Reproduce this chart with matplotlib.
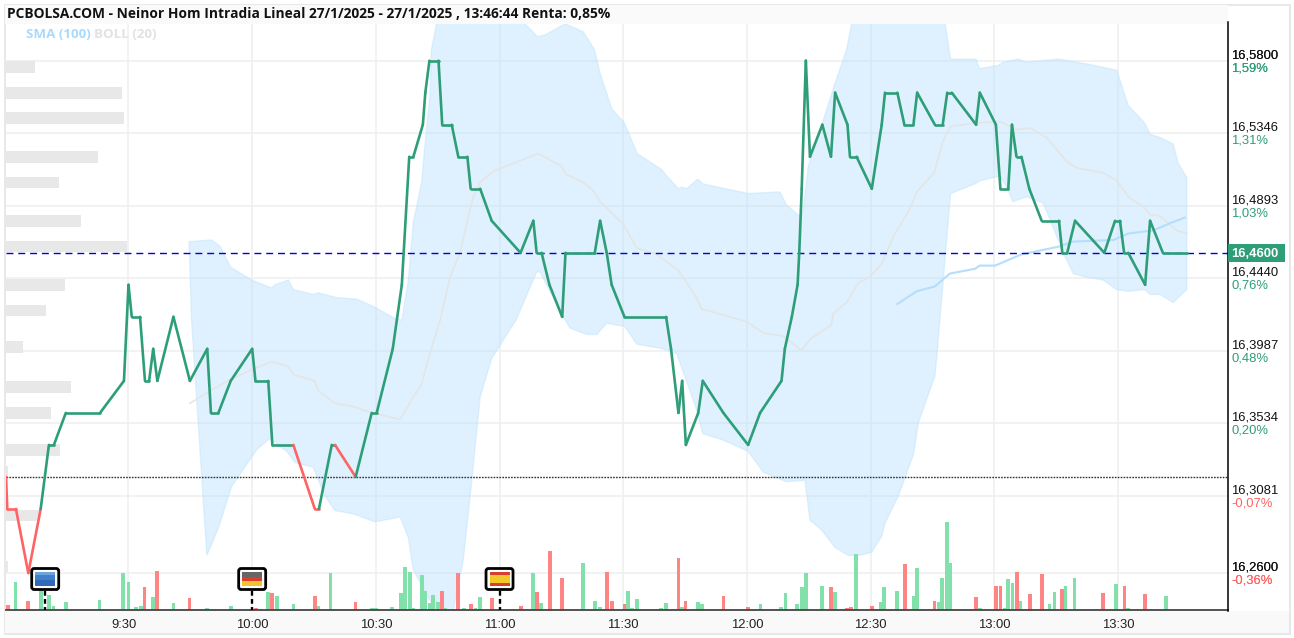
import matplotlib
matplotlib.use("Agg")
import matplotlib.pyplot as plt
from matplotlib.patches import FancyBboxPatch, Rectangle

TITLE = "PCBOLSA.COM - Neinor Hom Intradia Lineal 27/1/2025 - 27/1/2025 , 13:46:44 Renta: 0,85%"

# x values are minutes after 9:00
price_times = [0.3, 0.6, 2.7, 5.7, 8.7, 10.7, 11.9, 14.8, 23.1, 28.9, 30, 30.8, 32.8, 34, 35, 36, 37, 40.9, 44.9,
               49.1, 50, 51.8, 54.8, 60, 60.8, 63.9, 64.9, 70, 75.2, 76.2, 79.3, 80.1, 85.1, 89, 90.2, 94.1, 96.3,
               98.1, 99.1, 101.4, 102, 103, 105.2, 106.1, 108.4, 110, 112.2, 113, 115.3, 118.1, 125.1, 128.2, 129,
               130.2, 132.1, 135.2, 136, 143.1, 144.4, 146, 147.2, 150.3, 160.4, 161.6, 163.4, 164.3, 165.2, 168.2,
               169.3, 174.3, 180.3, 183.2, 188.4, 189.2, 190.9, 192.3, 192.7, 193.3, 194.3, 195.3, 198.3, 200.4,
               201.4, 204.4, 205, 206.6, 210.3, 212.7, 213.5, 216.5, 218.2, 220.4, 221.3, 225.6, 227.5, 228.6, 229.7,
               235.6, 236.5, 240.4, 241.5, 243.4, 244.3, 245.4, 246.6, 248.5, 251.5, 255.7, 256.5, 257.7, 259.6,
               266.7, 269.3, 270.5, 271.5, 272.5, 276.6, 277.8, 280.9, 286.7]
price_values = [16.32, 16.30, 16.30, 16.26, 16.30, 16.34, 16.34, 16.36, 16.36, 16.38, 16.44, 16.42, 16.42, 16.38, 16.38,
                16.40, 16.38, 16.42, 16.38, 16.40, 16.36, 16.36, 16.38, 16.40, 16.38, 16.38, 16.34, 16.34, 16.30, 16.30,
                16.34, 16.34, 16.32, 16.36, 16.36, 16.40, 16.44, 16.52, 16.52, 16.54, 16.56, 16.58, 16.58, 16.54, 16.54,
                16.52, 16.52, 16.50, 16.50, 16.48, 16.46, 16.48, 16.46, 16.46, 16.44, 16.42, 16.46, 16.46, 16.48, 16.46,
                16.44, 16.42, 16.42, 16.40, 16.36, 16.38, 16.34, 16.36, 16.38, 16.36, 16.34, 16.36, 16.38, 16.40, 16.42,
                16.44, 16.46, 16.50, 16.58, 16.52, 16.54, 16.52, 16.56, 16.54, 16.52, 16.52, 16.50, 16.54, 16.56, 16.56,
                16.54, 16.54, 16.56, 16.54, 16.54, 16.56, 16.56, 16.54, 16.56, 16.54, 16.50, 16.50, 16.54, 16.52, 16.52,
                16.50, 16.48, 16.48, 16.46, 16.46, 16.48, 16.46, 16.48, 16.48, 16.46, 16.46, 16.44, 16.48, 16.46, 16.46]
red_spans = [(0.3, 8.7), (70, 76.2), (80.1, 85.1)]

upper_times = [44.7, 50.2, 52.2, 54.8, 59.9, 64.7, 65.5, 68.8, 70, 74.8, 76, 80.5, 85.4, 89, 94.6, 96.3, 97.9, 99.1,
               101.1, 102.2, 103.1, 103.5, 104.8, 112, 120, 126.2, 129.2, 131, 135.9, 140.3, 143, 144.4, 147.2, 150.3,
               153.4, 159.3, 160.9, 163.4, 164.2, 165.4, 168.1, 169.4, 180.3, 188, 189.6, 192.7, 193.7, 194.9, 199.3,
               201.4, 204.2, 205.4, 210, 225, 228.1, 229.4, 235.6, 236.4, 241, 242.2, 245.8, 247.9, 255.5, 262.4,
               269.7, 272.5, 276.5, 277.8, 280.2, 283.4, 284.6, 286.7]
upper_values = [16.467, 16.468, 16.464, 16.451, 16.443, 16.438, 16.440, 16.443, 16.437, 16.434, 16.435, 16.432, 16.431,
                16.427, 16.419, 16.418, 16.443, 16.479, 16.504, 16.535, 16.557, 16.587, 16.604, 16.64, 16.64, 16.603,
                16.595, 16.596, 16.603, 16.598, 16.587, 16.572, 16.550, 16.541, 16.522, 16.512, 16.507, 16.500, 16.501,
                16.500, 16.506, 16.503, 16.497, 16.498, 16.490, 16.483, 16.487, 16.514, 16.549, 16.566, 16.587, 16.603,
                16.63, 16.63, 16.603, 16.581, 16.581, 16.575, 16.577, 16.579, 16.581, 16.579, 16.581, 16.578, 16.574,
                16.552, 16.541, 16.534, 16.532, 16.528, 16.516, 16.507]

lower_times = [44.7, 45.3, 49, 51.8, 55, 60.3, 61.1, 64.2, 68.4, 70.4, 74.8, 77.7, 80.1, 84.5, 89.8, 95.9, 97.9, 99.1,
               103.1, 105.5, 108.7, 111.2, 113.2, 115.3, 118.1, 124, 129, 129.8, 135.5, 137.1, 141.1, 143.6, 146, 150.4,
               153.3, 159.7, 163, 167.8, 169.3, 174.3, 180.3, 184, 189.6, 194.1, 195.3, 198.1, 201.4, 204.6, 207.4,
               210.3, 212.7, 213.5, 216.7, 220.4, 221.6, 225.6, 226.2, 226.8, 229.4, 235.3, 236.5, 241.4, 243.4, 244.5,
               247.9, 251.9, 257.1, 259.2, 262, 266.4, 269.7, 272.5, 276.5, 277.8, 280.2, 283.4, 286.7]
lower_values = [16.467, 16.418, 16.271, 16.288, 16.314, 16.334, 16.337, 16.344, 16.336, 16.329, 16.326, 16.308, 16.299,
                16.297, 16.292, 16.295, 16.282, 16.262, 16.243, 16.234, 16.236, 16.268, 16.316, 16.370, 16.394, 16.418,
                16.448, 16.448, 16.420, 16.413, 16.409, 16.409, 16.416, 16.414, 16.403, 16.400, 16.397, 16.362, 16.347,
                16.343, 16.336, 16.323, 16.317, 16.318, 16.293, 16.287, 16.276, 16.271, 16.271, 16.273, 16.283, 16.291,
                16.308, 16.334, 16.354, 16.383, 16.399, 16.418, 16.497, 16.503, 16.505, 16.508, 16.499, 16.492, 16.495,
                16.491, 16.458, 16.447, 16.445, 16.443, 16.437, 16.436, 16.437, 16.434, 16.434, 16.429, 16.437]

boll_times = [44.9, 50.6, 54.8, 59.9, 64.7, 68.8, 70, 75.2, 76, 80.1, 84.5, 89, 95.9, 99.1, 101.1, 103.1, 105.6, 108,
              110.4, 113.6, 115.3, 118.5, 129.4, 135.1, 136.1, 140.3, 142.7, 144.4, 150, 153.3, 158.1, 163.4, 167.8,
              169, 179.9, 184, 188.8, 193.3, 195.3, 200.5, 200.9, 204.2, 207, 209.8, 212.7, 215.5, 219.6, 221.2,
              225.4, 227.6, 229.4, 235.3, 241.4, 245.4, 248.7, 252.7, 257.6, 260, 266.4, 269.7, 272.9, 276.1, 277.8,
              280.2, 284.2, 286.7]
boll_values = [16.366, 16.375, 16.381, 16.387, 16.392, 16.389, 16.384, 16.380, 16.374, 16.366, 16.364, 16.360, 16.356,
               16.370, 16.378, 16.397, 16.418, 16.445, 16.460, 16.495, 16.504, 16.511, 16.522, 16.514, 16.509, 16.504,
               16.499, 16.492, 16.478, 16.463, 16.459, 16.449, 16.432, 16.425, 16.417, 16.410, 16.408, 16.399, 16.406,
               16.415, 16.422, 16.429, 16.441, 16.445, 16.453, 16.470, 16.488, 16.498, 16.510, 16.530, 16.539, 16.541,
               16.542, 16.537, 16.538, 16.532, 16.517, 16.513, 16.510, 16.505, 16.494, 16.489, 16.484, 16.483, 16.474,
               16.472]

sma_times = [216.5, 221.2, 225.6, 229.2, 235.3, 236.5, 240.2, 246.6, 255.9, 259.2, 268.9, 272.5, 278.6, 282.2, 286.2]
sma_values = [16.428, 16.436, 16.439, 16.447, 16.450, 16.452, 16.452, 16.459, 16.464, 16.467, 16.468, 16.472, 16.474,
              16.478, 16.482]

up_vol_times = [2.6, 8.8, 10.8, 11.8, 14.8, 23, 28.7, 30, 31.8, 33, 36, 40.9, 49, 54.9, 63.9, 66, 70, 76, 79, 89, 90,
                93.9, 96.1, 97, 98.2, 99.1, 101.2, 102, 103, 103.8, 105.1, 106.9, 111.4, 114.2, 115.2, 128.2, 130,
                140.3, 143.1, 144.3, 151.2, 152.1, 153.3, 159.2, 160.4, 164.3, 168.2, 169.1, 183.3, 188.3, 189.4,
                192.1, 193.3, 194.3, 198.2, 201.3, 206.4, 212.5, 213.3, 216.4, 220.4, 221.3, 226.5, 227.3, 228.5,
                229.4, 236.5, 242.5, 243.4, 244.4, 246.4, 253.4, 254.6, 257.3, 259.5, 269.5, 272.5, 281.6]
up_vol = [27.7, 20, 15, 4, 7.7, 10, 36.7, 27.7, 3.3, 4.3, 13.3, 6.7, 1.7, 4.3, 17.7, 14.3, 5.7, 4, 36.7, 1.7, 1.7,
          3.3, 16.7, 42.7, 37.7, 1.7, 35, 19.3, 6.7, 15, 7.7, 1.7, 1.7, 1.7, 13.3, 36.7, 6.7,
          46.7, 9, 3.3, 19.3, 1.7, 10.7, 1.7, 6.7, 3.3, 8, 5.7, 5.7, 3.3, 16.7,
          5.7, 23.3, 36.7, 24.3, 17.7, 55.7, 7.7, 23.3, 19.3, 14.3, 41.7, 8.3, 31.7, 88,
          46.7, 1.7, 1.7, 30.7, 26.7, 9, 5.7, 18, 24.3, 31.7, 25.7, 1.7, 14.3]
down_vol_times = [0.8, 5.7, 33.9, 36.9, 44.8, 60.9, 64.8, 75.2, 85.1, 106, 110, 113, 118.2, 125.2, 129.1, 132.2, 135.1,
                  146.1, 147.3, 150.3, 163.4, 165.1, 174.3, 180.3, 200.4, 204.3, 205.2, 210.3, 218.3, 225.5, 235.6,
                  240.4, 241.5, 245.5, 248.6, 251.6, 256.4, 266.4, 271.6, 276.5]
down_vol = [5, 9.3, 23.3, 39.3, 11.7, 1.7, 16.7, 14.3, 7.7, 19.3, 36.7, 5.7, 11.7, 4.3, 18, 59.3, 31.7,
            38.3, 9.3, 5.7, 51.7, 9.3, 14.3, 3.3, 23.3, 1.7, 3.3, 4.3, 45.7, 9.3, 13.3,
            24.3, 24.3, 38.3, 15.7, 35.7, 20.7, 16.7, 24.3, 15.7]

profile_prices = [16.576, 16.560, 16.544, 16.520, 16.504, 16.480, 16.464, 16.440, 16.424, 16.401, 16.376, 16.360,
                  16.337, 16.323, 16.296, 16.264]
profile_sizes = [7.1, 28.1, 28.6, 22.4, 12.9, 18.1, 29.4, 14.3, 9.7, 4.1, 15.8, 11, 13.1, 0.5, 8.3, 0.5]

ytick_values = [16.58, 16.5346, 16.4893, 16.444, 16.3987, 16.3534, 16.3081, 16.26]
ytick_labels = ["16,5800", "16,5346", "16,4893", "16,4440", "16,3987", "16,3534", "16,3081", "16,2600"]
pct_labels = ["1,59%", "1,31%", "1,03%", "0,76%", "0,48%", "0,20%", "-0,07%", "-0,36%"]
xtick_values = [30, 60, 90, 120, 150, 180, 210, 240, 270]
xtick_labels = ["9:30", "10:00", "10:30", "11:00", "11:30", "12:00", "12:30", "13:00", "13:30"]
event_times = [9.8, 60, 120]
event_flags = [[("#6FA3DC", 3), ("#3F7FCB", 5), ("#2F6BB8", 6)],
               [("#666666", 5), ("#D8402C", 4), ("#F3C431", 5)],
               [("#D8402C", 3), ("#F3C82B", 8), ("#D8402C", 3)]]

LAST_PRICE = 16.46
PREV_CLOSE = 16.32
GREEN = "#2E9E78"
RED = "#FF6464"
W, H = 1294, 638
L, R, T, B = 6, 1228, 24, 610
XLIM = (0.29, 296.7)
YLIM = (16.2369, 16.6029)


def is_red(t0, t1):
    return any(a <= t0 and t1 <= b for a, b in red_spans)


def draw_chart(ax):
    ax.set_xlim(XLIM)
    ax.set_ylim(YLIM)
    ax.set_xticks(xtick_values)
    ax.set_yticks(ytick_values)
    ax.set_xticklabels([])
    ax.set_yticklabels([])
    ax.tick_params(length=0)
    ax.grid(True, color="#EFEFEF", lw=1.1, zorder=1)
    ax.set_axisbelow(True)
    for s in ax.spines.values():
        s.set_visible(False)

    ax.barh(profile_prices, profile_sizes, height=0.0073, left=XLIM[0], color="#E8E8E8", zorder=1.5)

    xs = upper_times + lower_times[::-1]
    ys = upper_values + lower_values[::-1]
    ax.fill(xs, ys, facecolor="#BDE3FD", edgecolor="#BFE3FB", alpha=0.47, lw=1, zorder=2)
    ax.plot(boll_times, boll_values, color="#E4E4E4", lw=1.1, zorder=3)
    ax.plot(sma_times, sma_values, color="#B5DEFC", lw=1.5, zorder=3)

    # volume shares the price axis, scaled to pixel-like units
    scale = (YLIM[1] - YLIM[0]) / (B - T)
    ax.bar(up_vol_times, [v * scale for v in up_vol], width=0.9, bottom=YLIM[0], color="#82E0AA", zorder=4)
    ax.bar(down_vol_times, [v * scale for v in down_vol], width=0.9, bottom=YLIM[0], color="#FF8585", zorder=4)

    ax.axhline(PREV_CLOSE, color="#333333", lw=1, dashes=(1.2, 0.9), zorder=5)
    ax.axhline(LAST_PRICE, color="#0000DC", lw=1, dashes=(5, 3.5), zorder=5)

    for i in range(len(price_times) - 1):
        t0, t1 = price_times[i], price_times[i + 1]
        c = RED if is_red(t0, t1) else GREEN
        ax.plot([t0, t1], price_values[i:i + 2], color=c, lw=1.9, zorder=6, solid_capstyle="round")


def draw_flag(over, x, stripes):
    over.plot([x, x], [591, 610], color="black", lw=1.7, dashes=(2, 1.4), zorder=8)
    over.add_patch(FancyBboxPatch((x - 13.5, 568.5), 27, 21, boxstyle="round,pad=0,rounding_size=2.5",
                                  fc="white", ec="black", lw=2, zorder=9))
    y = 572
    for c, h in stripes:
        over.add_patch(Rectangle((x - 10, y), 20, h, fc=c, ec="none", zorder=10))
        y += h


def draw_frame(over, ax):
    over.set_xlim(0, W)
    over.set_ylim(H, 0)
    over.axis("off")
    over.patch.set_alpha(0)

    over.add_patch(Rectangle((4.5, 4.5), 1285, 629, fc="none", ec="#E4E4E4", lw=1.2))
    over.add_patch(Rectangle((5, 5), L + 1222 - 5, 19, fc="#FAFAFA", ec="none"))
    over.add_patch(Rectangle((5, 611), 1284, 22, fc="#F9F9F9", ec="none"))
    over.plot([L, R], [610.4, 610.4], color="#444444", lw=1.3, zorder=7)
    over.plot([R + 0.3, R + 0.3], [22, 611], color="black", lw=1.1, zorder=7)

    over.text(7, 14, TITLE, fontsize=9.9, fontweight="bold", family="Open Sans", color="#111111", va="center")
    over.text(26, 34, "SMA (100)", fontsize=9.6, fontweight="bold", family="Open Sans", color="#A9DAFD", va="center")
    over.text(94, 34, "BOLL (20)", fontsize=9.6, fontweight="bold", family="Open Sans", color="#E2E2E2", va="center")

    to_px = ax.transData.transform
    fig_h = over.figure.bbox.height
    for i, val in enumerate(ytick_values):
        y = fig_h - to_px((0, val))[1]
        repeat = 2 if i in (0, len(ytick_values) - 1) else 1
        for _ in range(repeat):
            over.text(1231, y - 5.6, ytick_labels[i], fontsize=9.4, family="Liberation Sans", color="#111111",
                      va="center")
            over.text(1231, y + 7.4, pct_labels[i], fontsize=9.4, family="Liberation Sans",
                      color=RED if pct_labels[i].startswith("-") else GREEN, va="center")

    y = fig_h - to_px((0, LAST_PRICE))[1]
    over.add_patch(Rectangle((R, y - 8.5), 57, 17.5, fc=GREEN, ec="none", zorder=7))
    over.text(1231, y + 0.8, "16,4600", fontsize=9.4, family="Liberation Sans", color="white", fontweight="bold",
              va="center", zorder=8)

    for val, lab in zip(xtick_values, xtick_labels):
        x = to_px((val, 0))[0]
        if lab == "9:30":
            x -= 4
        over.text(x, 624.5, lab, fontsize=9.4, family="Liberation Sans", color="#222222", ha="center", va="center")

    for t, stripes in zip(event_times, event_flags):
        draw_flag(over, to_px((t, 0))[0], stripes)


def main():
    fig = plt.figure(figsize=(W / 100, H / 100), dpi=100, facecolor="white")
    ax = fig.add_axes([L / W, (H - B) / H, (R - L) / W, (B - T) / H])
    draw_chart(ax)
    over = fig.add_axes([0, 0, 1, 1], zorder=5)
    draw_frame(over, ax)
    fig.savefig("out.png", dpi=100)


if __name__ == "__main__":
    main()
